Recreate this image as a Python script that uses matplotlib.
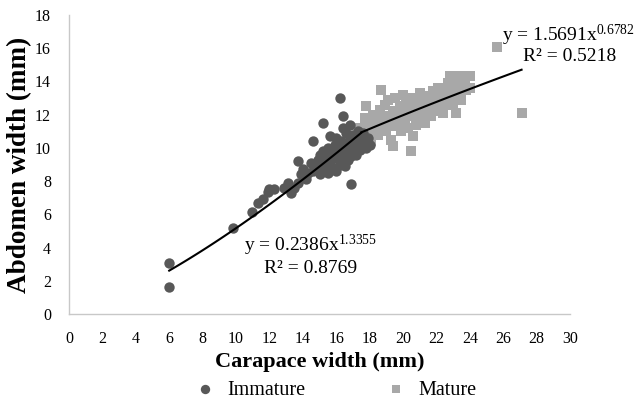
import matplotlib
matplotlib.use("Agg")
import matplotlib.pyplot as plt
import numpy as np

plt.rcParams['font.family'] = ['Liberation Serif', 'DejaVu Serif']
plt.rcParams['mathtext.fontset'] = 'custom'
plt.rcParams['mathtext.rm'] = 'Liberation Serif'
plt.rcParams['mathtext.it'] = 'Liberation Serif:italic'

# Immature crabs: carapace width vs abdomen width (mm)
imm_cw = [6.0, 6.0, 9.8, 10.95, 11.3, 11.6, 11.9, 12.0, 12.3, 12.9, 13.1, 13.3,
          13.5, 13.7, 13.7, 13.9, 14.2, 14.3, 14.5, 14.6, 14.6, 14.8, 14.9, 15.0,
          15.0, 15.1, 15.2, 15.2, 15.3, 15.4, 15.5, 15.5, 15.6, 15.6, 15.7, 15.8,
          15.8, 15.9, 16.0, 16.0, 16.0, 16.1, 16.2, 16.2, 16.2, 16.3, 16.3, 16.4,
          16.4, 16.4, 16.5, 16.5, 16.6, 16.7, 16.7, 16.8, 16.8, 16.8, 16.9, 16.9,
          17.0, 17.0, 17.0, 17.1, 16.9, 17.2, 17.2, 17.3, 17.3, 17.4, 17.5, 17.5,
          17.6, 17.7, 17.8, 17.9, 18.0, 15.9, 16.6, 14.0, 15.3, 16.1, 17.1]
imm_aw = [3.1, 1.6, 5.2, 6.15, 6.7, 6.9, 7.35, 7.5, 7.5, 7.6, 7.9, 7.3,
          7.6, 7.9, 9.2, 8.4, 8.1, 8.5, 9.1, 8.6, 10.4, 8.9, 9.3, 9.6,
          8.4, 9.0, 11.5, 9.8, 8.7, 9.4, 10.0, 8.5, 10.7, 9.2, 9.6, 9.9,
          8.8, 10.2, 9.4, 10.6, 8.6, 9.8, 13.0, 10.1, 9.0, 10.4, 9.5, 11.9,
          11.2, 9.2, 10.0, 8.9, 9.7, 10.3, 9.3, 11.4, 10.6, 9.9, 10.1, 9.5,
          10.8, 10.4, 9.8, 10.0, 7.8, 10.6, 9.6, 11.0, 10.2, 9.9, 10.5, 10.1,
          10.9, 10.3, 10.0, 10.6, 10.2, 8.8, 10.9, 8.7, 9.2, 10.0, 10.7]

# Mature crabs
mat_cw = [17.4, 17.6, 17.7, 17.8, 17.9, 18.0, 18.1, 18.2, 18.3, 18.4, 18.5, 18.6,
          18.7, 18.8, 18.9, 19.0, 19.0, 19.1, 19.2, 19.3, 19.4, 19.4, 19.5, 19.6,
          19.7, 19.8, 19.9, 20.0, 20.0, 20.1, 20.2, 20.3, 20.4, 20.5, 20.5, 20.6,
          20.6, 20.7, 20.8, 20.9, 21.0, 21.0, 21.1, 21.2, 21.3, 21.4, 21.5, 21.6,
          21.7, 21.8, 21.9, 22.0, 22.1, 22.2, 22.3, 22.4, 22.5, 22.6, 22.7, 22.8,
          22.9, 23.0, 23.1, 23.2, 23.3, 23.4, 23.5, 23.6, 23.7, 23.8, 24.0, 24.0,
          25.6, 27.1, 22.4, 23.2, 21.9]
mat_aw = [11.2, 10.6, 11.8, 12.5, 11.0, 11.5, 10.4, 12.0, 11.2, 11.7, 10.8, 12.3,
          13.5, 11.4, 12.6, 11.0, 11.9, 12.9, 11.6, 10.5, 10.1, 12.2, 13.0, 11.3,
          11.9, 12.5, 11.0, 12.0, 13.2, 11.6, 12.7, 11.2, 12.3, 9.8, 13.0, 10.7,
          11.9, 12.6, 11.4, 12.2, 13.3, 11.8, 12.9, 12.4, 11.5, 12.0, 13.1, 12.6,
          11.9, 13.4, 12.2, 12.8, 13.6, 12.4, 13.0, 12.1, 13.4, 12.7, 13.9, 14.3,
          13.2, 12.6, 13.7, 14.1, 13.3, 14.3, 12.9, 13.8, 14.2, 13.5, 14.3, 13.6,
          16.1, 12.1, 12.2, 12.1, 12.3]

# Power-law fits: AW = a * CW^b
imm_fit = (0.2386, 1.3355, 0.8769)
mat_fit = (1.5691, 0.6782, 0.5218)
imm_range = (6.0, 17.5)
mat_range = (17.5, 27.1)

fig = plt.figure(figsize=(6.41, 4.01), dpi=100)
ax = fig.add_axes([69 / 641, 1 - 314 / 401, 501 / 641, 299 / 401])

ax.scatter(mat_cw, mat_aw, marker='s', s=46, color='#a8a8a8', linewidths=0,
           label='Mature', zorder=2)
ax.scatter(imm_cw, imm_aw, marker='o', s=56, color='#585858', linewidths=0,
           label='Immature', zorder=3)

for (a, b, _), (x0, x1) in ((imm_fit, imm_range), (mat_fit, mat_range)):
    xs = np.linspace(x0, x1, 100)
    ax.plot(xs, a * xs ** b, color='black', lw=1.5, zorder=4)

eq_size = 14
ax.text(14.45, 4.15, r'y = %.4fx$^{%.4f}$' % (imm_fit[0], imm_fit[1]),
        ha='center', va='center', fontsize=eq_size, zorder=5)
ax.text(14.45, 2.75, 'R² = %.4f' % imm_fit[2], ha='center', va='center',
        fontsize=eq_size, zorder=5)
ax.text(29.9, 16.75, r'y = %.4fx$^{%.4f}$' % (mat_fit[0], mat_fit[1]),
        ha='center', va='center', fontsize=eq_size, zorder=5, clip_on=False)
ax.text(29.95, 15.5, 'R² = %.4f' % mat_fit[2], ha='center', va='center',
        fontsize=eq_size, zorder=5, clip_on=False)

ax.set_xlim(0, 30)
ax.set_ylim(0, 18)
ax.set_xticks(range(0, 31, 2))
ax.set_yticks(range(0, 19, 2))
ax.tick_params(length=0, labelsize=11.5)
ax.tick_params(axis='x', pad=12)
ax.tick_params(axis='y', pad=13)
for s in ('top', 'right'):
    ax.spines[s].set_visible(False)
for s in ('left', 'bottom'):
    ax.spines[s].set_color('#c8c8c8')
    ax.spines[s].set_linewidth(1.0)

ax.set_xlabel('Carapace width (mm)', fontsize=16, fontweight='bold', labelpad=4)
ax.set_ylabel('Abdomen width (mm)', fontsize=19.5, fontweight='bold',
              va='center')
ax.yaxis.set_label_coords(-49 / 501, 0.5)

h, l = ax.get_legend_handles_labels()
fig.legend([h[1], h[0]], [l[1], l[0]], loc='center', ncol=2,
           bbox_to_anchor=(336 / 641, 1 - 390 / 401), frameon=False,
           fontsize=14.5, columnspacing=4.0, handlelength=1.0,
           handletextpad=0.6, markerscale=0.9)

fig.savefig('out.png', dpi=100)
